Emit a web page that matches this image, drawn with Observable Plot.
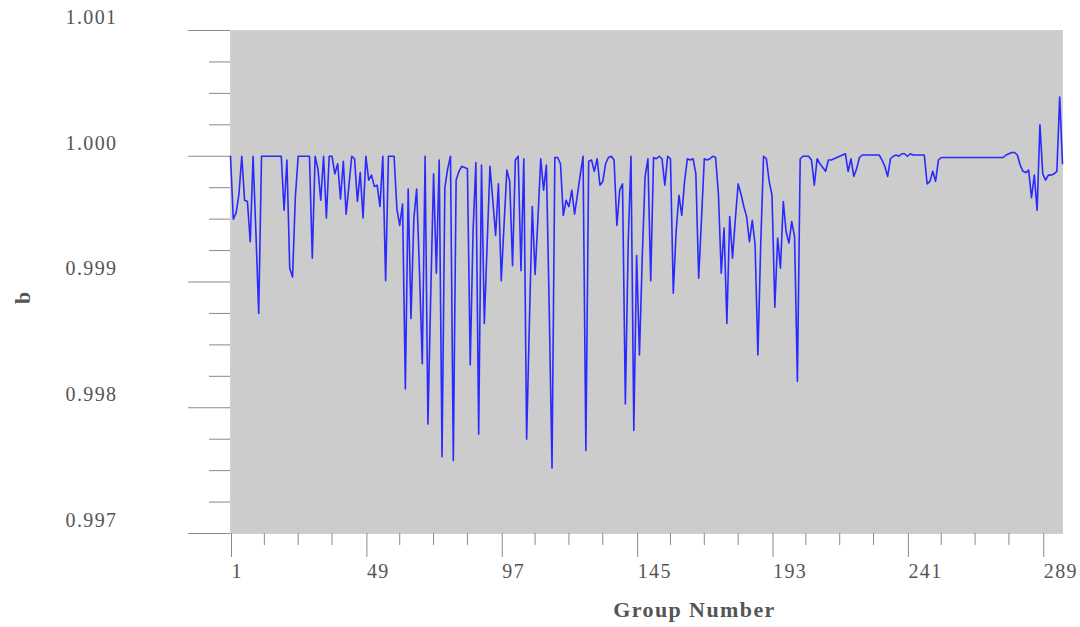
<!DOCTYPE html>
<html>
<head>
<meta charset="utf-8">
<script src="https://cdn.jsdelivr.net/npm/d3@7"></script>
<script src="https://cdn.jsdelivr.net/npm/@observablehq/plot@0.6"></script>
<style>
  html, body { margin: 0; padding: 0; background: #fff; }
  #chart svg text { letter-spacing: 1.4px; }
</style>
</head>
<body>
<div id="chart"></div>
<script>
// b value for each group (group number = position + 1)
const values = [
  1.00000, 0.99950, 0.99955, 0.99970, 1.00000, 0.99965, 0.99964, 0.99932, 1.00000, 0.99940,
  0.99875, 1.00000, 1.00000, 1.00000, 1.00000, 1.00000, 1.00000, 1.00000, 1.00000, 0.99957,
  0.99997, 0.99911, 0.99904, 0.99968, 1.00000, 1.00000, 1.00000, 1.00000, 1.00000, 0.99919,
  1.00000, 0.99990, 0.99965, 1.00000, 0.99951, 1.00000, 1.00000, 0.99986, 0.99994, 0.99966,
  0.99996, 0.99954, 0.99977, 1.00000, 0.99998, 0.99964, 0.99987, 0.99951, 1.00000, 0.99981,
  0.99985, 0.99976, 0.99977, 0.99960, 1.00000, 0.99901, 1.00000, 1.00000, 1.00000, 0.99958,
  0.99945, 0.99962, 0.99815, 0.99974, 0.99871, 0.99950, 0.99974, 0.99909, 0.99835, 1.00000,
  0.99787, 0.99890, 0.99986, 0.99907, 0.99997, 0.99761, 0.99975, 0.99990, 1.00000, 0.99758,
  0.99981, 0.99988, 0.99992, 0.99991, 0.99990, 0.99834, 0.99940, 0.99995, 0.99779, 0.99993,
  0.99867, 0.99930, 0.99992, 0.99965, 0.99937, 0.99978, 0.99901, 0.99946, 0.99989, 0.99980,
  0.99913, 0.99997, 1.00000, 0.99909, 0.99998, 0.99775, 0.99870, 0.99960, 0.99906, 0.99950,
  0.99998, 0.99973, 0.99993, 0.99880, 0.99752, 0.99999, 0.99999, 0.99994, 0.99953, 0.99965,
  0.99960, 0.99973, 0.99954, 0.99969, 0.99985, 1.00000, 0.99766, 0.99996, 0.99997, 0.99988,
  0.99998, 0.99977, 0.99980, 0.99994, 0.99999, 1.00000, 0.99997, 0.99945, 0.99973, 0.99978,
  0.99803, 0.99930, 1.00000, 0.99782, 0.99921, 0.99842, 0.99920, 0.99984, 0.99998, 0.99901,
  0.99999, 0.99998, 1.00000, 0.99998, 0.99977, 1.00000, 0.99998, 0.99891, 0.99940, 0.99969,
  0.99953, 0.99980, 0.99998, 0.99997, 0.99998, 0.99986, 0.99903, 0.99950, 0.99998, 0.99997,
  0.99998, 1.00000, 0.99999, 0.99970, 0.99907, 0.99943, 0.99867, 0.99952, 0.99919, 0.99950,
  0.99978, 0.99970, 0.99960, 0.99952, 0.99932, 0.99949, 0.99930, 0.99842, 0.99930, 1.00000,
  0.99998, 0.99980, 0.99969, 0.99880, 0.99935, 0.99911, 0.99964, 0.99940, 0.99931, 0.99948,
  0.99936, 0.99821, 0.99998, 1.00000, 1.00000, 1.00000, 0.99997, 0.99977, 0.99998, 0.99994,
  0.99991, 0.99988, 0.99997, 0.99997, 0.99998, 0.99999, 1.00000, 1.00001, 1.00002, 0.99988,
  0.99998, 0.99984, 0.99990, 0.99999, 1.00001, 1.00001, 1.00001, 1.00001, 1.00001, 1.00001,
  1.00001, 0.99997, 0.99992, 0.99984, 0.99998, 1.00000, 1.00001, 1.00000, 1.00002, 1.00002,
  1.00000, 1.00002, 1.00001, 1.00001, 1.00001, 1.00001, 1.00001, 0.99978, 0.99980, 0.99988,
  0.99980, 0.99997, 0.99999, 0.99999, 0.99999, 0.99999, 0.99999, 0.99999, 0.99999, 0.99999,
  0.99999, 0.99999, 0.99999, 0.99999, 0.99999, 0.99999, 0.99999, 0.99999, 0.99999, 0.99999,
  0.99999, 0.99999, 0.99999, 0.99999, 0.99999, 1.00001, 1.00002, 1.00003, 1.00003, 1.00001,
  0.99993, 0.99988, 0.99987, 0.99989, 0.99967, 0.99985, 0.99957, 1.00025, 0.99986, 0.99981,
  0.99985, 0.99985, 0.99986, 0.99988, 1.00047, 0.99994
];

const xTicks = [1, 49, 97, 145, 193, 241, 289];
const xMinorTicks = [13, 25, 37, 61, 73, 85, 109, 121, 133, 157, 169, 181, 205, 217, 229, 253, 265, 277];
const yTicks = [0.997, 0.998, 0.999, 1.000, 1.001];
const yMinorTicks = [0.99725, 0.9975, 0.99775, 0.99825, 0.9985, 0.99875, 0.99925, 0.9995, 0.99975, 1.00025, 1.0005, 1.00075];
const xTitle = "Group Number";
const yTitle = "b";

const table = values.map((b, i) => ({group: i + 1, b}));

const chart = Plot.plot({
  width: 1080,
  height: 627,
  marginLeft: 230,
  marginRight: 18,
  marginTop: 30,
  marginBottom: 94,
  x: {domain: [1, values.length]},
  y: {domain: [0.997, 1.001]},
  style: {fontFamily: "Liberation Serif", background: "#ffffff", color: "#555"},
  marks: [
    Plot.frame({fill: "#cccccc", stroke: "#d2d2d2"}),
    Plot.axisY(yMinorTicks, {tickSize: 21, text: null, stroke: "#8a8a8a", label: null}),
    Plot.axisY(yTicks, {tickSize: 42, text: null, stroke: "#8a8a8a", label: null}),
    Plot.axisY(yTicks, {tickSize: 0, tickPadding: 113, dy: -13, tickFormat: d3.format(".3f"),
      fill: "#555", fontSize: 20, label: null}),
    Plot.axisX(xMinorTicks, {tickSize: 12, text: null, stroke: "#8a8a8a", label: null}),
    Plot.axisX(xTicks, {tickSize: 24, tickPadding: 6, textAnchor: "start", dx: 1,
      stroke: "#8a8a8a", fill: "#555", fontSize: 20, label: null}),
    Plot.line(table, {x: "group", y: "b", stroke: "#2a2aff", strokeWidth: 1.6}),
    Plot.text([xTitle], {frameAnchor: "bottom", dx: 48, dy: 83, fontSize: 22, fontWeight: "bold", fill: "#555"}),
    Plot.text([yTitle], {frameAnchor: "left", dx: -208, dy: 22, rotate: -90, fontSize: 22, fontWeight: "bold", fill: "#555"})
  ]
});
document.getElementById("chart").appendChild(chart);
</script>
</body>
</html>
